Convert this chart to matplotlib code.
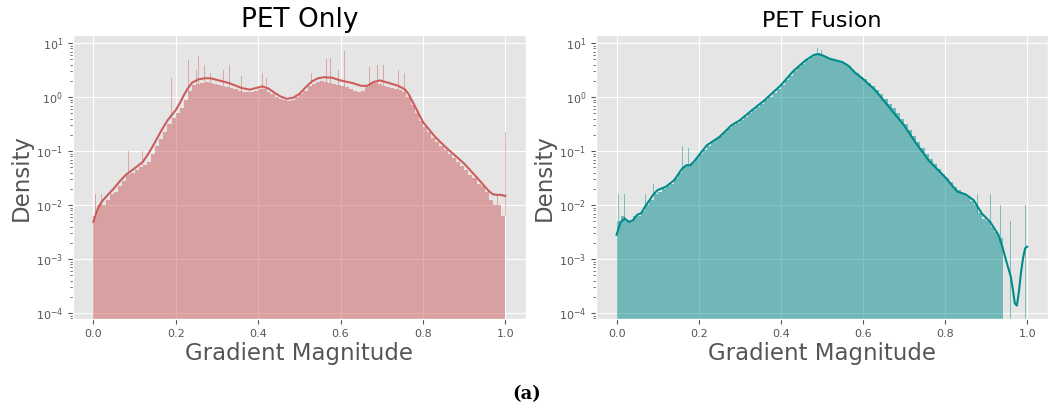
import numpy as np
import matplotlib.pyplot as plt

plt.style.use("ggplot")

bin_left = np.arange(0, 1.0, 0.01)

only_log = [-2.2, -2.0, -2.0, -1.9, -1.8, -1.75, -1.65, -1.55, -1.45, -1.4,
            -1.35, -1.3, -1.25, -1.2, -1.05, -0.9, -0.78, -0.65, -0.5, -0.38,
            -0.3, -0.2, -0.05, 0.12, 0.22, 0.25, 0.27, 0.28, 0.27, 0.25,
            0.22, 0.2, 0.18, 0.17, 0.15, 0.12, 0.1, 0.1, 0.1, 0.12,
            0.15, 0.15, 0.1, 0.05, 0.0, -0.03, -0.06, -0.08, -0.05, 0.0,
            0.05, 0.12, 0.2, 0.25, 0.28, 0.3, 0.28, 0.26, 0.25, 0.22,
            0.2, 0.18, 0.15, 0.12, 0.1, 0.12, 0.18, 0.25, 0.26, 0.24,
            0.2, 0.18, 0.17, 0.15, 0.13, 0.1, 0.0, -0.15, -0.3, -0.45,
            -0.55, -0.65, -0.75, -0.83, -0.9, -0.98, -1.05, -1.12, -1.2, -1.28,
            -1.35, -1.45, -1.5, -1.6, -1.65, -1.75, -1.9, -2.0, -2.0, -2.2]

fusion_log = [-2.3, -2.2, -2.3, -2.3, -2.2, -2.2, -2.1, -2.0, -1.9, -1.8,
              -1.75, -1.7, -1.65, -1.6, -1.5, -1.4, -1.3, -1.27, -1.22, -1.12,
              -1.05, -0.97, -0.9, -0.83, -0.77, -0.72, -0.65, -0.58, -0.52, -0.47,
              -0.43, -0.37, -0.3, -0.24, -0.18, -0.12, -0.06, 0.01, 0.08, 0.15,
              0.22, 0.31, 0.40, 0.48, 0.55, 0.62, 0.68, 0.74, 0.78, 0.80,
              0.76, 0.72, 0.70, 0.68, 0.66, 0.63, 0.57, 0.50, 0.45, 0.38,
              0.33, 0.26, 0.2, 0.13, 0.05, -0.03, -0.12, -0.2, -0.3, -0.4,
              -0.5, -0.6, -0.72, -0.83, -0.95, -1.05, -1.15, -1.24, -1.33, -1.42,
              -1.5, -1.58, -1.66, -1.72, -1.78, -1.85, -1.92, -2.0, -2.15, -2.25,
              -2.3, -2.4, -2.5, -2.6, None, None, None, None, None, None]

# single thin spikes above the bins (x, log10 density)
only_spike_x = [0.005, 0.02, 0.085, 0.12, 0.19, 0.23, 0.25, 0.255, 0.27, 0.285,
                0.3, 0.315, 0.33, 0.36, 0.395, 0.41, 0.42, 0.53, 0.55, 0.565,
                0.575, 0.595, 0.61, 0.64, 0.67, 0.69, 0.705, 0.72, 0.725, 0.74,
                0.755, 0.965, 0.98, 1.0]
only_spike_y = [-1.8, -1.8, -1.0, -1.0, 0.35, 0.68, 0.5, 0.77, 0.6, 0.45,
                0.6, 0.5, 0.6, 0.4, 0.6, 0.45, 0.35, 0.45, 0.86, 0.7,
                0.72, 0.5, 0.85, 0.35, 0.55, 0.6, 0.6, 0.55, 0.45, 0.5,
                0.45, -1.8, -1.8, -0.64]

fusion_spike_x = [0.005, 0.02, 0.04, 0.07, 0.09, 0.13, 0.16, 0.175, 0.49, 0.5,
                  0.88, 0.91, 0.935, 0.96, 0.985, 0.995]
fusion_spike_y = [-1.8, -1.8, -1.8, -1.8, -1.6, -1.4, -0.9, -0.95, 0.92, 0.88,
                  -1.8, -1.8, -2.0, -2.3, -2.3, -2.0]

# KDE curves (x, log10 density)
only_kde_x = [0.0, 0.01, 0.02, 0.035, 0.05, 0.065, 0.08, 0.1, 0.12, 0.135, 0.15,
              0.165, 0.18, 0.2, 0.21, 0.22, 0.23, 0.24, 0.255, 0.27, 0.285, 0.3,
              0.33, 0.36, 0.38, 0.395, 0.41, 0.425, 0.44, 0.455, 0.47, 0.485, 0.5,
              0.515, 0.53, 0.545, 0.56, 0.58, 0.6, 0.63, 0.65, 0.665, 0.68, 0.695,
              0.71, 0.74, 0.755, 0.765, 0.78, 0.8, 0.83, 0.86, 0.9, 0.93, 0.96,
              0.97, 0.98, 0.99, 1.0]
only_kde_y = [-2.31, -2.08, -1.94, -1.81, -1.69, -1.55, -1.43, -1.32, -1.20, -1.03,
              -0.83, -0.62, -0.43, -0.24, -0.11, 0.04, 0.17, 0.27, 0.33, 0.35,
              0.35, 0.32, 0.26, 0.17, 0.14, 0.17, 0.20, 0.16, 0.08, 0.01, -0.03,
              -0.01, 0.06, 0.18, 0.29, 0.35, 0.37, 0.36, 0.31, 0.26, 0.21, 0.21,
              0.28, 0.31, 0.28, 0.21, 0.15, 0.06, -0.16, -0.46, -0.74, -0.96,
              -1.23, -1.48, -1.74, -1.80, -1.81, -1.81, -1.83]

fusion_kde_x = [0.0, 0.01, 0.02, 0.03, 0.04, 0.05, 0.06, 0.07, 0.08, 0.09, 0.1, 0.12,
                0.14, 0.16, 0.17, 0.18, 0.19, 0.2, 0.22, 0.25, 0.28, 0.3, 0.33, 0.36,
                0.4, 0.43, 0.46, 0.48, 0.49, 0.5, 0.52, 0.55, 0.565, 0.58, 0.6, 0.63,
                0.66, 0.7, 0.73, 0.76, 0.8, 0.83, 0.85, 0.87, 0.89, 0.91, 0.93, 0.94,
                0.95, 0.96, 0.965, 0.97, 0.975, 0.98, 0.985, 0.99, 0.995, 1.0]
fusion_kde_y = [-2.55, -2.31, -2.25, -2.31, -2.28, -2.18, -2.15, -2.02, -1.91, -1.80,
                -1.72, -1.66, -1.54, -1.32, -1.26, -1.26, -1.18, -1.08, -0.89, -0.74,
                -0.52, -0.43, -0.24, -0.06, 0.22, 0.48, 0.68, 0.78, 0.80, 0.78, 0.71,
                0.65, 0.58, 0.46, 0.34, 0.13, -0.15, -0.52, -0.86, -1.17, -1.48,
                -1.75, -1.80, -1.91, -2.16, -2.31, -2.55, -2.78, -3.06, -3.32, -3.55,
                -3.82, -3.86, -3.60, -3.25, -2.98, -2.80, -2.77]


def to_density(vals):
    return np.array([0.0 if v is None else 10 ** v for v in vals])


fig = plt.figure(figsize=(10.54, 4.08), dpi=100)
ax1 = fig.add_axes([0.069, 0.218, 0.430, 0.696])
ax2 = fig.add_axes([0.5655, 0.218, 0.4285, 0.696])

panels = [
    (ax1, "PET Only", 19, only_log, only_spike_x, only_spike_y, only_kde_x, only_kde_y, "indianred"),
    (ax2, "PET Fusion", 16, fusion_log, fusion_spike_x, fusion_spike_y, fusion_kde_x, fusion_kde_y, "darkcyan"),
]

for ax, title, tsize, hist_log, sx, sy, kx, ky, col in panels:
    ax.set_yscale("log")
    heights = to_density(hist_log)
    ax.bar(bin_left, heights, width=0.01, align="edge", bottom=1e-6,
           color=col, alpha=0.5, linewidth=0)
    # spikes start where the bin under them ends
    idx = np.minimum((np.array(sx) / 0.01).astype(int), len(heights) - 1)
    base = np.maximum(heights[idx], 1e-6)
    tops = to_density(sy)
    ax.bar(sx, np.maximum(tops - base, 0), width=0.002, bottom=base, color=col,
           alpha=0.45, linewidth=0)
    ax.plot(kx, to_density(ky), color=col, linewidth=1.5)
    ax.set_xlim(-0.05, 1.05)
    ax.set_ylim(10 ** -4.11, 10 ** 1.15)
    ax.set_title(title, fontsize=tsize, color="black", pad=6)
    ax.set_xlabel("Gradient Magnitude", fontsize=16.5, color="#555555", labelpad=2)
    ax.set_ylabel("Density", fontsize=16.5, color="#555555", labelpad=2)
    ax.tick_params(labelsize=8, colors="#555555")
    ax.set_xticks([0.0, 0.2, 0.4, 0.6, 0.8, 1.0])

fig.text(0.5, 0.035, "(a)", ha="center", va="center", fontsize=13,
         fontweight="bold", family="DejaVu Serif")

plt.savefig("out.png", dpi=100)
